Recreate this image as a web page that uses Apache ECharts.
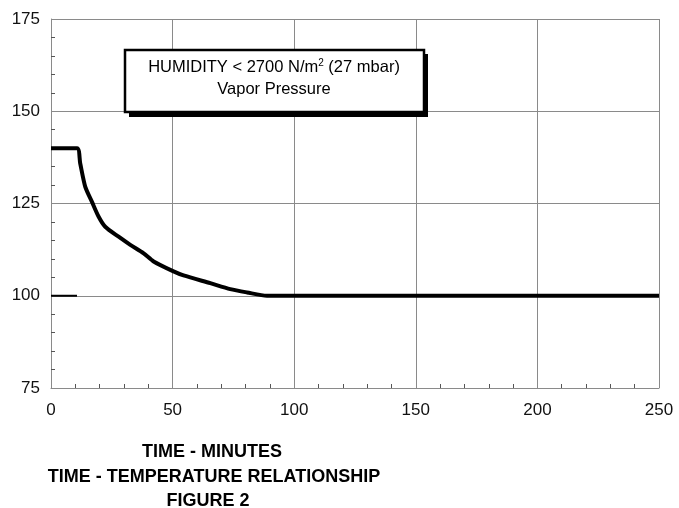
<!DOCTYPE html>
<html><head><meta charset="utf-8">
<script src="https://cdn.jsdelivr.net/npm/echarts@6/dist/echarts.min.js"></script>
<style>html,body{margin:0;padding:0;background:#fff}#c{width:679px;height:508px}</style>
</head><body><div id="c"></div>
<script>
// Data
const timeMin = [0, 10.7, 12, 14.1, 16.8, 19.6, 22.3, 27.8, 32.6, 38.1, 42.2, 50.4, 54.5, 65.5, 73.7, 80.6, 88.8, 250];
const tempVal = [140, 140, 135.9, 129.5, 125.5, 121.4, 118.7, 116, 113.8, 111.5, 109.3, 106.6, 105.5, 103.4, 101.8, 100.9, 100, 100];
const baseTime = [0, 10.7];
const baseVal = [100, 100];
const xTicks = [0, 50, 100, 150, 200, 250];
const yTicks = [75, 100, 125, 150, 175];
const boxLine1 = ['HUMIDITY < 2700 N/m', '2', ' (27 mbar)'];
const boxLine2 = 'Vapor Pressure';
const titles = ['TIME - MINUTES', 'TIME - TEMPERATURE RELATIONSHIP', 'FIGURE 2'];

const font = '"Liberation Sans", Arial, Helvetica, sans-serif';
const chart = echarts.init(document.getElementById('c'));
const gridCol = '#8a8a8a';
chart.setOption({
  animation: false,
  grid: {left: 51, right: 20, top: 19, bottom: 120},
  xAxis: {
    type: 'value', min: xTicks[0], max: xTicks[xTicks.length - 1], interval: 50,
    axisLine: {lineStyle: {color: gridCol, width: 1}},
    axisTick: {show: false, inside: true},
    minorTick: {show: true, splitNumber: 5, length: 4, lineStyle: {color: '#555'}},
    splitLine: {show: true, lineStyle: {color: gridCol, width: 1}},
    axisLabel: {color: '#111', fontSize: 17, fontFamily: font, margin: 14}
  },
  yAxis: {
    type: 'value', min: yTicks[0], max: yTicks[yTicks.length - 1], interval: 25,
    axisLine: {show: true, lineStyle: {color: gridCol, width: 1}},
    axisTick: {show: false, inside: true},
    minorTick: {show: true, splitNumber: 5, length: 4, lineStyle: {color: '#555'}},
    splitLine: {show: true, lineStyle: {color: gridCol, width: 1}},
    axisLabel: {color: '#111', fontSize: 17, fontFamily: font, margin: 11}
  },
  series: [
    {type: 'line', data: timeMin.map((t, i) => [t, tempVal[i]]), symbol: 'none',
     smooth: 0.25,
     lineStyle: {color: '#000', width: 4}, z: 5},
    {type: 'line', data: baseTime.map((t, i) => [t, baseVal[i]]), symbol: 'none',
     lineStyle: {color: '#000', width: 2}, z: 4}
  ],
  graphic: [
    {type: 'rect', shape: {x: 129, y: 54, width: 299, height: 63}, style: {fill: '#000'}, z: 10},
    {type: 'rect', shape: {x: 125, y: 50, width: 299, height: 62}, style: {fill: '#fff', stroke: '#000', lineWidth: 2.5}, z: 11},
    {type: 'text', x: 274, y: 67, z: 12, style: {
      text: '{a|' + boxLine1[0] + '}{s|' + boxLine1[1] + '}{a|' + boxLine1[2] + '}',
      align: 'center', verticalAlign: 'middle',
      rich: {a: {fontSize: 16.5, fontFamily: font, fill: '#000', verticalAlign: 'bottom', lineHeight: 18},
             s: {fontSize: 10, fontFamily: font, fill: '#000', verticalAlign: 'top', lineHeight: 18, padding: [0, 0, 8, 0]}}
    }},
    {type: 'text', x: 274, y: 89, z: 12, style: {text: boxLine2, fontSize: 16.5, fontFamily: font, fill: '#000', align: 'center', verticalAlign: 'middle'}},
    {type: 'text', x: 212, y: 452, style: {text: titles[0], fontSize: 18, fontWeight: 'bold', fontFamily: font, fill: '#000', align: 'center', verticalAlign: 'middle'}},
    {type: 'text', x: 214, y: 477, style: {text: titles[1], fontSize: 18, fontWeight: 'bold', fontFamily: font, fill: '#000', align: 'center', verticalAlign: 'middle'}},
    {type: 'text', x: 208, y: 501, style: {text: titles[2], fontSize: 18, fontWeight: 'bold', fontFamily: font, fill: '#000', align: 'center', verticalAlign: 'middle'}}
  ]
});
</script></body></html>
